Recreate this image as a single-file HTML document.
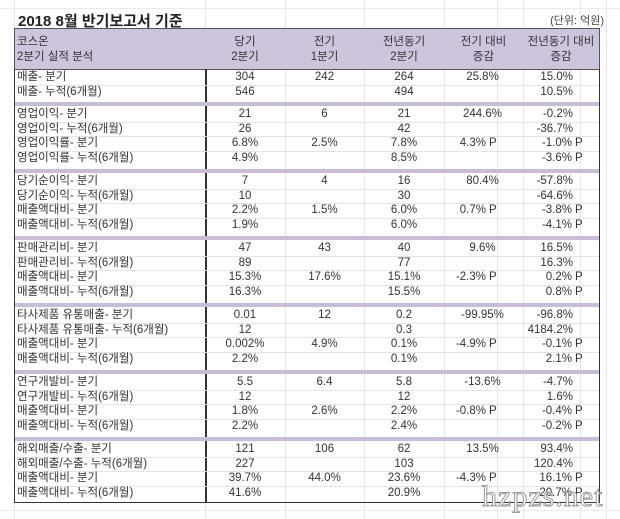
<!DOCTYPE html>
<html><head><meta charset="utf-8">
<style>
*{margin:0;padding:0;box-sizing:border-box}
body{width:620px;height:519px;background:#fff;position:relative;overflow:hidden;font-family:"Liberation Sans","Noto Sans CJK KR","NanumGothic",sans-serif;font-size:11.5px;color:#333}
.a{position:absolute;white-space:nowrap}
.vg{position:absolute;top:0;height:519px;width:1px;background:#e3e6ea}
.hg{position:absolute;left:0;width:620px;height:1px;background:#e8eaee}
.c{position:absolute;text-align:center;white-space:nowrap;line-height:14px}
.l{position:absolute;left:17px;white-space:nowrap;line-height:14px}
.r{position:absolute;text-align:right;white-space:nowrap;line-height:14px}
.sep{position:absolute;left:15px;width:584px;height:4px;background:#c9bcd9}
</style></head><body>
<div class="vg" style="left:14px"></div>
<div class="vg" style="left:205px"></div>
<div class="vg" style="left:285px"></div>
<div class="vg" style="left:364px"></div>
<div class="vg" style="left:444px"></div>
<div class="vg" style="left:497px"></div>
<div class="vg" style="left:523px"></div>
<div class="vg" style="left:580px"></div>
<div class="vg" style="left:606px"></div>
<div class="hg" style="top:8px"></div>
<div class="hg" style="top:510px"></div>

<div class="a" style="left:18px;top:10px;font-size:15px;font-weight:bold;color:#222">2018 8월 반기보고서 기준</div>
<div class="a" style="right:16px;top:12px;font-size:11px;color:#444">(단위: 억원)</div>

<div class="a" style="left:14px;top:28px;width:586px;height:42px;background:#cfc4dd;border:1px solid #555"></div>
<div class="a" style="left:17px;top:35px;line-height:15px;color:#333">코스온<br>2분기 실적 분석</div>
<div class="c" style="left:205px;width:80px;top:35px;line-height:15px">당기<br>2분기</div>
<div class="c" style="left:285px;width:79px;top:35px;line-height:15px">전기<br>1분기</div>
<div class="c" style="left:364px;width:80px;top:35px;line-height:15px">전년동기<br>2분기</div>
<div class="c" style="left:444px;width:79px;top:35px;line-height:15px">전기 대비<br>증감</div>
<div class="c" style="left:523px;width:76px;top:35px;line-height:15px">전년동기 대비<br>증감</div>

<div class="a" style="left:14px;top:69px;width:586px;height:434px;border:1px solid #333;border-top:none"></div>
<div class="a" style="left:205px;top:69px;width:1.5px;height:434px;background:#333"></div>

<div id="rows"></div>
<div class="sep" style="top:102px"></div>
<div class="sep" style="top:169px"></div>
<div class="sep" style="top:236px"></div>
<div class="sep" style="top:303px"></div>
<div class="sep" style="top:370px"></div>
<div class="sep" style="top:437px"></div>

<script>
var data=[
[["매출- 분기","304","242","264","25.8%","15.0%"],["매출- 누적(6개월)","546","","494","","10.5%"]],
[["영업이익- 분기","21","6","21","244.6%","-0.2%"],["영업이익- 누적(6개월)","26","","42","","-36.7%"],["영업이익률- 분기","6.8%","2.5%","7.8%","4.3%P","-1.0%P"],["영업이익률- 누적(6개월)","4.9%","","8.5%","","-3.6%P"]],
[["당기순이익- 분기","7","4","16","80.4%","-57.8%"],["당기순이익- 누적(6개월)","10","","30","","-64.6%"],["매출액대비- 분기","2.2%","1.5%","6.0%","0.7%P","-3.8%P"],["매출액대비- 누적(6개월)","1.9%","","6.0%","","-4.1%P"]],
[["판매관리비- 분기","47","43","40","9.6%","16.5%"],["판매관리비- 누적(6개월)","89","","77","","16.3%"],["매출액대비- 분기","15.3%","17.6%","15.1%","-2.3%P","0.2%P"],["매출액대비- 누적(6개월)","16.3%","","15.5%","","0.8%P"]],
[["타사제품 유통매출- 분기","0.01","12","0.2","-99.95%","-96.8%"],["타사제품 유통매출- 누적(6개월)","12","","0.3","","4184.2%"],["매출액대비- 분기","0.002%","4.9%","0.1%","-4.9%P","-0.1%P"],["매출액대비- 누적(6개월)","2.2%","","0.1%","","2.1%P"]],
[["연구개발비- 분기","5.5","6.4","5.8","-13.6%","-4.7%"],["연구개발비- 누적(6개월)","12","","12","","1.6%"],["매출액대비- 분기","1.8%","2.6%","2.2%","-0.8%P","-0.4%P"],["매출액대비- 누적(6개월)","2.2%","","2.4%","","-0.2%P"]],
[["해외매출/수출- 분기","121","106","62","13.5%","93.4%"],["해외매출/수출- 누적(6개월)","227","","103","","120.4%"],["매출액대비- 분기","39.7%","44.0%","23.6%","-4.3%P","16.1%P"],["매출액대비- 누적(6개월)","41.6%","","20.9%","","20.7%P"]]
];
var starts=[70,107,174,241,308,375,442],h="";
data.forEach(function(g,gi){g.forEach(function(r,ri){
 var t=starts[gi]+ri*14.5;
 if(ri>0)h+='<div class="hg" style="top:'+t+'px;left:15px;width:584px;background:#e2e4e8"></div>';
 h+='<div class="l" style="top:'+t+'px">'+r[0]+'</div>';
 h+='<div class="c" style="left:205px;width:80px;top:'+t+'px">'+r[1]+'</div>';
 h+='<div class="c" style="left:285px;width:79px;top:'+t+'px">'+r[2]+'</div>';
 h+='<div class="c" style="left:364px;width:80px;top:'+t+'px">'+r[3]+'</div>';
 var v=r[4];
 if(v.indexOf("P")>=0){h+='<div class="r" style="right:'+(620-486)+'px;top:'+t+'px">'+v.replace("P","")+'</div><div class="a" style="left:489px;top:'+t+'px;line-height:14px">P</div>';}
 else if(v)h+='<div class="c" style="left:444px;width:77px;top:'+t+'px">'+v+'</div>';
 v=r[5];
 if(v.indexOf("P")>=0){h+='<div class="r" style="right:'+(620-572)+'px;top:'+t+'px">'+v.replace("P","")+'</div><div class="a" style="left:575px;top:'+t+'px;line-height:14px">P</div>';}
 else h+='<div class="r" style="right:'+(620-573)+'px;top:'+t+'px">'+v+'</div>';
});});
document.getElementById("rows").innerHTML=h;
</script>
<div class="a" style="left:482px;top:480px;font-family:'Liberation Serif',serif;font-size:30px;color:#fff;-webkit-text-stroke:1px #999;letter-spacing:1px">hzpzs.net</div>
</body></html>
